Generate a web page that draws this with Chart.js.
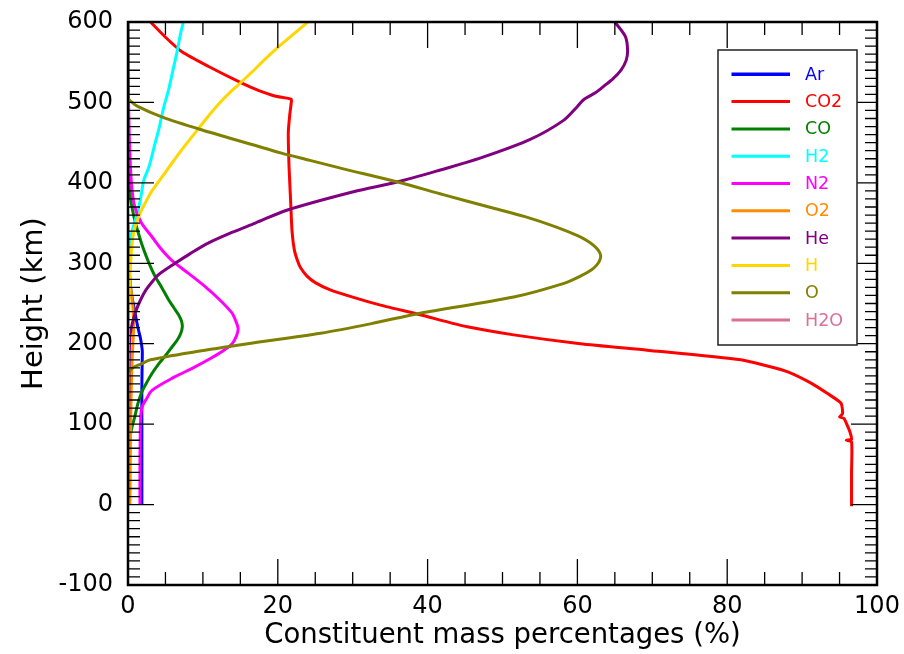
<!DOCTYPE html>
<html>
<head>
<meta charset="utf-8">
<script src="https://cdn.jsdelivr.net/npm/chart.js@4.4.1/dist/chart.umd.min.js"></script>
<style>
  html, body { margin: 0; padding: 0; background: #fff; }
</style>
</head>
<body>
<canvas id="mycanvas" width="904" height="654"></canvas>
<script>
// heights (km) and mass percentages (%) per constituent
var arH  = [0, 100, 150, 180, 192, 205, 217, 228, 238, 250, 262, 280, 300];
var arV  = [1.85, 1.85, 1.85, 1.9, 1.9, 1.7, 1.4, 1.15, 0.94, 0.7, 0.45, 0.25, 0.1];

var co2H = [-2, 0, 40, 78, 80, 81, 90, 99, 107, 109, 113, 126, 138, 151, 165, 172, 180, 192, 200, 211, 221, 236, 248, 258, 267, 276, 284, 295, 304, 317, 340, 380, 420, 462, 485, 500, 504, 508, 515, 524, 545, 563, 582, 600];
var co2V = [96.6, 96.6, 96.6, 96.6, 95.9, 96.6, 96.4, 96.0, 95.6, 95.0, 95.4, 95.2, 93.4, 91.2, 88.1, 85.5, 81.8, 69.3, 60.4, 51.5, 45.3, 39.0, 33.7, 30.0, 27.0, 25.0, 23.9, 23.0, 22.6, 22.2, 21.9, 21.7, 21.5, 21.4, 21.6, 21.8, 21.8, 19.6, 17.4, 15.2, 10.7, 7.2, 4.9, 3.0];

var coH  = [0, 60, 80, 95, 109, 125, 139, 150, 163, 175, 184, 195, 205, 213, 221, 228, 236, 245, 255, 270, 284, 298, 312, 325, 337, 350, 362, 380, 400, 430];
var coV  = [0.06, 0.1, 0.2, 0.5, 0.9, 1.3, 1.8, 2.4, 3.2, 4.1, 4.9, 5.8, 6.6, 7.05, 7.25, 7.15, 6.75, 6.1, 5.4, 4.5, 3.6, 2.9, 2.3, 1.8, 1.4, 1.0, 0.7, 0.35, 0.15, 0.05];

var h2H  = [0, 200, 280, 300, 320, 338, 358, 372, 387, 403, 420, 445, 470, 495, 515, 540, 565, 585, 600];
var h2V  = [0, 0.01, 0.05, 0.1, 0.25, 0.5, 1.1, 1.5, 1.8, 2.1, 2.8, 3.5, 4.2, 4.8, 5.4, 6.0, 6.6, 7.0, 7.4];

var n2H  = [0, 60, 110, 122, 132, 142, 159, 170, 180, 190, 200, 210, 219, 228, 238, 255, 271, 288, 304, 318, 333, 350, 370, 400, 450, 500, 550, 600];
var n2V  = [1.6, 1.6, 1.7, 1.9, 2.5, 3.2, 6.3, 8.7, 10.7, 12.5, 13.9, 14.5, 14.7, 14.4, 13.9, 12.2, 10.3, 8.0, 5.8, 4.4, 3.2, 1.8, 0.9, 0.45, 0.2, 0.08, 0.03, 0.01];

var o2H  = [0, 50, 100, 150, 180, 200, 220, 240, 255, 270, 290, 320, 350];
var o2V  = [0.25, 0.3, 0.35, 0.45, 0.55, 0.65, 0.75, 0.7, 0.55, 0.35, 0.15, 0.05, 0.01];

var heH  = [0, 100, 150, 200, 213, 230, 242, 255, 267, 279, 286, 300, 312, 325, 338, 350, 366, 389, 401, 416, 431, 454, 478, 495, 504, 512, 520, 530, 540, 552, 565, 582, 600];
var heV  = [0.05, 0.08, 0.12, 0.2, 0.3, 0.7, 1.1, 1.7, 2.4, 3.4, 4.1, 6.3, 8.3, 10.7, 13.8, 17.0, 21.2, 30.1, 35.9, 41.7, 47.1, 53.7, 58.2, 60.0, 60.9, 62.4, 63.5, 64.8, 65.8, 66.5, 66.7, 66.4, 65.0];

var hH   = [0, 100, 200, 250, 280, 300, 325, 342, 362, 375, 390, 408, 425, 445, 465, 485, 503, 515, 526, 540, 553, 570, 585, 600];
var hV   = [0.01, 0.02, 0.05, 0.12, 0.25, 0.35, 0.55, 0.85, 1.6, 2.3, 3.2, 4.6, 5.9, 7.5, 9.2, 10.9, 12.6, 13.9, 15.2, 16.8, 18.2, 20.2, 22.1, 24.0];

var oH   = [165, 171, 175, 180, 190, 200, 213, 225, 238, 258, 275, 284, 292, 298, 304, 310, 316, 322, 328, 334, 345, 358, 370, 385, 401, 418, 428, 437, 447, 466, 482, 495, 502, 505];
var oV   = [0, 0.8, 1.8, 3.0, 9.0, 16.0, 25.7, 32.5, 39.0, 51.5, 58.2, 60.4, 61.9, 62.6, 63.0, 63.1, 62.8, 62.2, 61.3, 60.1, 57.2, 53.0, 48.2, 42.2, 36.0, 28.5, 24.3, 20.5, 16.8, 9.8, 4.5, 1.3, 0.3, 0];

var h2oH = [0, 50, 100, 150];
var h2oV = [0.05, 0.03, 0.01, 0];

var names  = ['Ar', 'CO2', 'CO', 'H2', 'N2', 'O2', 'He', 'H', 'O', 'H2O'];
var colors = ['#0000FF', '#FF0000', '#008000', '#00FFFF', '#FF00FF', '#FF8C00', '#800080', '#FFD700', '#808000', '#DB7093'];
var heights = [arH, co2H, coH, h2H, n2H, o2H, heH, hH, oH, h2oH];
var values  = [arV, co2V, coV, h2V, n2V, o2V, heV, hV, oV, h2oV];

function pts(h, v) {
  var out = [];
  for (var i = 0; i < h.length; i++) out.push({x: v[i], y: h[i]});
  return out;
}

var datasets = [];
for (var i = 0; i < names.length; i++) {
  datasets.push({
    label: names[i],
    data: pts(heights[i], values[i]),
    borderColor: colors[i],
    backgroundColor: colors[i],
    borderWidth: 3,
    showLine: true,
    pointRadius: 0,
    tension: names[i] === 'CO2' ? 0.2 : 0.3,
    order: 20 - i   // later series on top
  });
}

// inside ticks on all four sides, frame, and boxed legend
var framePlugin = {
  id: 'frame',
  afterDatasetsDraw: function(chart) {
    var ctx = chart.ctx, a = chart.chartArea;
    var x = chart.scales.x, y = chart.scales.y;
    ctx.save();
    ctx.strokeStyle = '#000';
    ctx.lineWidth = 1.3;
    ctx.beginPath();
    for (var v = 0; v <= 100; v += 5) {
      var px = x.getPixelForValue(v);
      var len = v % 20 === 0 ? 26 : 13;
      ctx.moveTo(px, a.bottom); ctx.lineTo(px, a.bottom - len);
      ctx.moveTo(px, a.top); ctx.lineTo(px, a.top + len);
    }
    for (var h = -100; h <= 600; h += 10) {
      var py = y.getPixelForValue(h);
      var l2 = h % 100 === 0 ? 26 : 12;
      ctx.moveTo(a.left, py); ctx.lineTo(a.left + l2, py);
      ctx.moveTo(a.right, py); ctx.lineTo(a.right - l2, py);
    }
    ctx.stroke();
    ctx.lineWidth = 2.5;
    ctx.strokeRect(a.left, a.top, a.right - a.left, a.bottom - a.top);

    // legend
    var bx = a.right - 159, by = a.top + 28, bw = 139, bh = 295;
    ctx.fillStyle = '#fff';
    ctx.fillRect(bx, by, bw, bh);
    ctx.lineWidth = 1.5;
    ctx.strokeStyle = '#222';
    ctx.strokeRect(bx, by, bw, bh);
    ctx.font = '17.5px "DejaVu Sans"';
    ctx.textBaseline = 'middle';
    ctx.textAlign = 'left';
    chart.data.datasets.forEach(function(ds, k) {
      var ry = by + 24.3 + k * 27.3;
      ctx.strokeStyle = ds.borderColor;
      ctx.lineWidth = k === 0 ? 3.5 : 3;
      ctx.beginPath();
      ctx.moveTo(bx + 13.5, ry); ctx.lineTo(bx + 72, ry);
      ctx.stroke();
      ctx.fillStyle = ds.borderColor;
      ctx.fillText(ds.label, bx + 87, ry + 1);
    });
    ctx.restore();
  }
};

Chart.defaults.font.family = '"DejaVu Sans", sans-serif';
Chart.defaults.color = '#000';

var ctx = document.getElementById('mycanvas');
var chart = new Chart(ctx, {
  type: 'scatter',
  data: { datasets: datasets },
  options: {
    responsive: false,
    animation: false,
    layout: { padding: { top: 22, right: 27, left: 0, bottom: 0 } },
    plugins: {
      legend: { display: false },
      tooltip: { enabled: false }
    },
    scales: {
      x: {
        type: 'linear',
        min: 0, max: 100,
        ticks: { stepSize: 20, font: { size: 24 }, padding: 7 },
        grid: { display: false, drawTicks: false },
        border: { display: false },
        title: {
          display: true,
          text: 'Constituent mass percentages (%)',
          font: { size: 27.5 },
          padding: { top: 0, bottom: 2 }
        },
        afterFit: function(s) { s.height = 69; s.paddingLeft = 0; s.paddingRight = 0; }
      },
      y: {
        type: 'linear',
        min: -100, max: 600,
        ticks: { stepSize: 100, font: { size: 24 }, padding: 15 },
        grid: { display: false, drawTicks: false },
        border: { display: false },
        title: {
          display: true,
          text: 'Height (km)',
          font: { size: 29 },
          padding: { top: 17, bottom: 0 }
        },
        afterFit: function(s) { s.width = 128; s.paddingTop = 0; s.paddingBottom = 0; }
      }
    }
  },
  plugins: [framePlugin]
});
</script>
</body>
</html>
